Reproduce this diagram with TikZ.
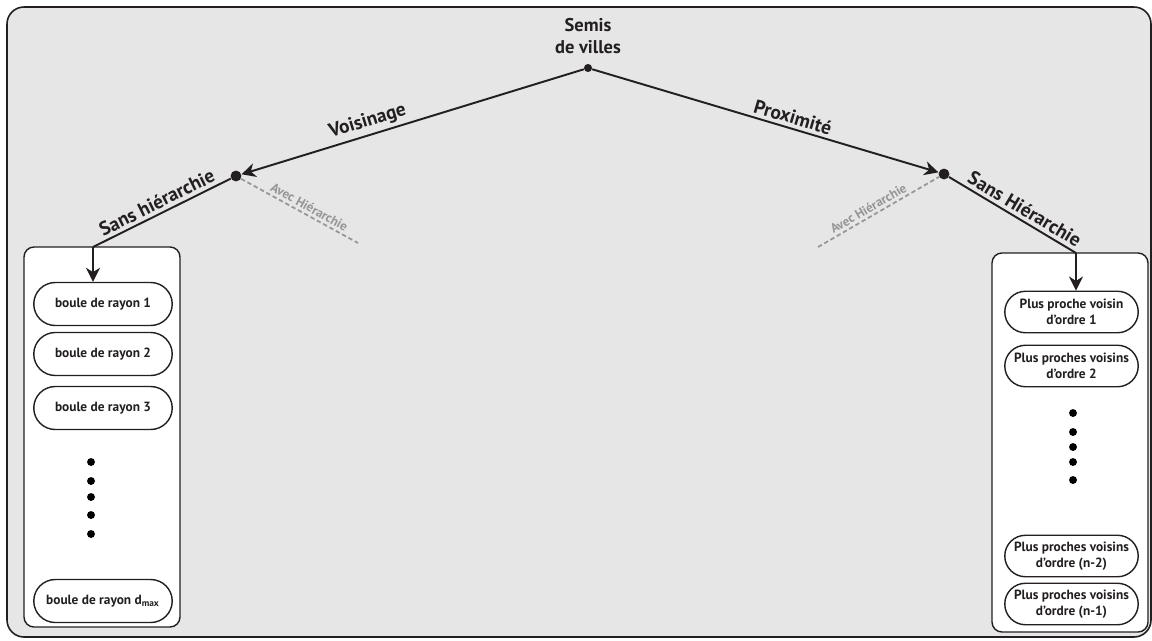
\documentclass[tikz,border=0pt]{standalone}
\usepackage{fontspec}
\setmainfont{PT Sans}
\usetikzlibrary{shapes.misc,arrows.meta}

\definecolor{fondgris}{HTML}{E6E6E6}
\definecolor{encre}{HTML}{231F20}
\definecolor{grisclair}{HTML}{969696}

\tikzset{
  cadre/.style={draw=encre,line width=0.9pt,fill=fondgris,rounded corners=0.34cm},
  boite/.style={draw=encre,line width=0.8pt,fill=white,rounded corners=0.2cm},
  capsule/.style={draw=encre,line width=0.8pt,fill=white,rounded rectangle,
    minimum height=0.86cm,inner sep=1pt,align=center,text=encre,
    font=\fontsize{7.6}{9}\selectfont\bfseries},
  branche/.style={draw=encre,line width=1.1pt},
  fleche/.style={branche,-{Stealth[length=8pt,width=8pt,inset=2.5pt]}},
  pointille/.style={draw=grisclair,line width=1pt,dash pattern=on 2.5pt off 1.6pt},
  etiq/.style={text=encre,font=\fontsize{11}{13}\selectfont\bfseries,sloped,above,inner sep=2pt},
  petiteetiq/.style={text=grisclair,font=\fontsize{7.4}{9}\selectfont\bfseries,sloped,above,inner sep=1.5pt},
  noeud/.style={circle,fill=encre,inner sep=0pt,minimum size=#1},
  puce/.style={circle,fill=black,inner sep=0pt,minimum size=4.5pt}
}

\begin{document}
\begin{tikzpicture}[x=0.02cm,y=-0.02cm]
\useasboundingbox (0,0) rectangle (1152,640);
\draw[cadre] (7,7) rectangle (1151,637);

% racine
\node[text=encre,align=center,font=\fontsize{10.5}{12}\selectfont\bfseries] (titre) at (588,36) {Semis\\de villes};
\node[noeud=4.6pt] (racine) at (588,68) {};
\node[noeud=6.2pt] (gauche) at (236,176) {};
\node[noeud=6.2pt] (droite) at (944,174) {};

\draw[fleche] (racine) -- node[etiq,pos=0.62] {Voisinage} (gauche);
\draw[fleche] (racine) -- node[etiq,pos=0.57] {Proximité} (droite);

% colonne de gauche
\draw[boite] (24,247) rectangle (180,627);
\node[capsule,minimum width=2.84cm] (lcap1) at (103,304) {boule de rayon 1};
\node[capsule,minimum width=2.84cm] (lcap2) at (103,354) {boule de rayon 2};
\node[capsule,minimum width=2.84cm] (lcap3) at (103,408) {boule de rayon 3};
\node[capsule,minimum width=2.84cm] (lcapmax) at (103,601) {boule de rayon d\textsubscript{max}};
\foreach \y in {462,481,497,515,534}
  \node[puce] at (91,\y) {};
\coordinate (lcoude) at (93,247);
\draw[branche] (gauche) -- node[etiq,pos=0.5] {Sans hiérarchie} (lcoude);
\draw[fleche] (lcoude) -- (lcoude |- lcap1.north);
\coordinate (lfin) at (358,243);
\draw[pointille] (gauche) -- node[petiteetiq,pos=0.55] {Avec Hiérarchie} (lfin);

% colonne de droite
\draw[boite] (992,253) rectangle (1148,632);
\node[capsule,minimum width=2.74cm,minimum height=0.83cm] (rcap1) at (1071.5,312) {Plus proche voisin\\d'ordre 1};
\node[capsule,minimum width=2.74cm,minimum height=0.83cm] (rcap2) at (1071.5,366) {Plus proches voisins\\d'ordre 2};
\node[capsule,minimum width=2.74cm,minimum height=0.83cm] (rcap3) at (1071.5,556) {Plus proches voisins\\d'ordre (n-2)};
\node[capsule,minimum width=2.74cm,minimum height=0.83cm] (rcap4) at (1071.5,604) {Plus proches voisins\\d'ordre (n-1)};
\foreach \y in {413,432,447,462,480}
  \node[puce] at (1073,\y) {};
\coordinate (rcoude) at (1076,253);
\draw[branche] (droite) -- node[etiq,pos=0.55] {Sans Hiérarchie} (rcoude);
\draw[fleche] (rcoude) -- (rcoude |- rcap1.north);
\coordinate (rfin) at (818,247);
\draw[pointille] (rfin) -- node[petiteetiq,pos=0.45] {Avec Hiérarchie} (droite);
\end{tikzpicture}
\end{document}
